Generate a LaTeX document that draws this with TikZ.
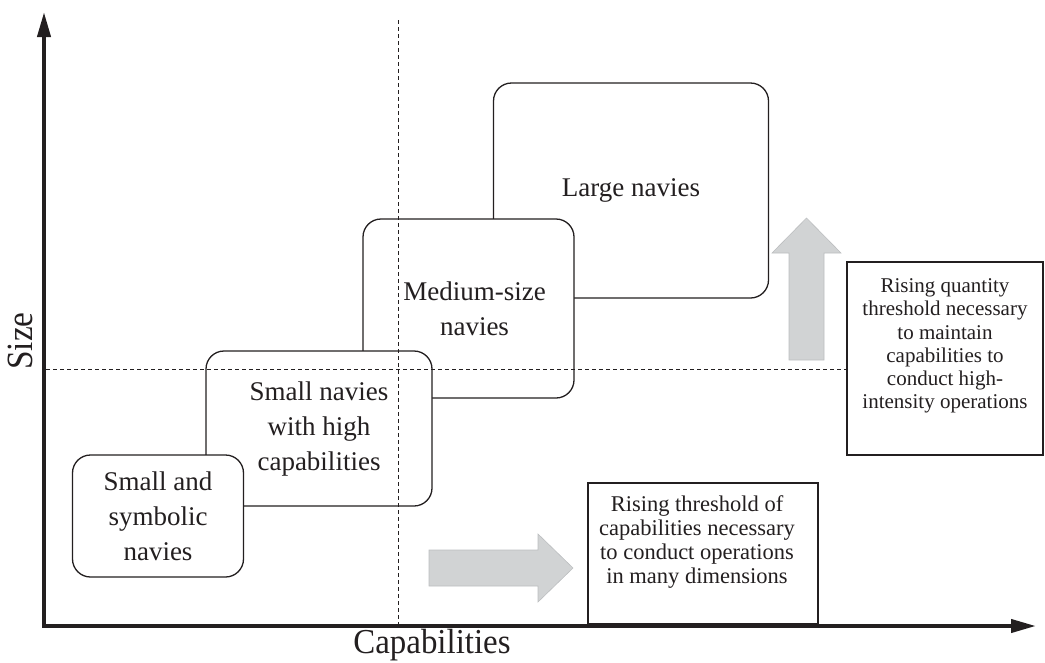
\documentclass[tikz,border=0pt]{standalone}
\usepackage{fontspec}
\setmainfont{Liberation Serif}
\usetikzlibrary{arrows.meta}
\definecolor{ink}{HTML}{231F20}
\definecolor{arrowfill}{HTML}{D1D3D4}
\definecolor{arrowedge}{HTML}{BCBEC0}
\begin{document}
\begin{tikzpicture}[x=1pt, y=-1pt,
  navybox/.style={draw=ink, line width=1.3pt, rounded corners=18pt, fill=white,
    align=center, text=ink, font=\fontsize{27}{35}\selectfont, inner sep=0pt},
  noteframe/.style={draw=ink, line width=1.2pt, fill=white, inner sep=0pt},
  notetext/.style={align=center, text=ink, inner sep=0pt},
  guide/.style={draw=ink, line width=0.9pt, dash pattern=on 4pt off 3pt},
  axisline/.style={draw=ink, line width=4pt, line join=miter},
  bigarrow/.style={fill=arrowfill, draw=arrowedge, line width=0.6pt},
  axislabel/.style={text=ink, inner sep=0pt}
]
\useasboundingbox (0,0) rectangle (1045,662);

% navy boxes (largest first, smaller ones on top)
\node[navybox, minimum width=275pt, minimum height=215pt] (large) at (631,190.5) {Large navies};
\node[navybox, minimum width=211pt, minimum height=179pt] (medium) at (468.5,308.5) {\hspace*{12pt}Medium-size\\\hspace*{12pt}navies};
\node[navybox, minimum width=226pt, minimum height=155pt] (smallhigh) at (319,428.5) {Small navies\\with high\\capabilities};
\node[navybox, minimum width=171pt, minimum height=122pt] (smallsym) at (158,516) {Small and\\symbolic\\navies};

% grey block arrows
\draw[bigarrow] (789,360) -- (789,253) -- (772,253) -- (806.5,218) -- (841,253) -- (824,253) -- (824,360) -- cycle;
\draw[bigarrow] (429,550) -- (538,550) -- (538,534) -- (573,568) -- (538,602) -- (538,586) -- (429,586) -- cycle;

% dashed guides
\coordinate (vtop) at (398,20);
\coordinate (vbot) at (398,624);
\coordinate (hleft) at (46,369);
\coordinate (hright) at (847,369);
\draw[guide] (vtop) -- (vbot);
\draw[guide] (hleft) -- (hright);

% note frames and texts
\node[noteframe, minimum width=196pt, minimum height=193pt] (qframe) at (945,358.5) {};
\node[notetext, font=\fontsize{21}{23.3}\selectfont] (qtext) at (945,346)
  {Rising quantity\\threshold necessary\\to maintain\\capabilities to\\conduct high-\\intensity operations};
\node[noteframe, minimum width=230pt, minimum height=141pt] (cframe) at (703,553.5) {};
\node[notetext, font=\fontsize{22.5}{23.7}\selectfont] (ctext) at (697,542)
  {Rising threshold of\\capabilities necessary\\to conduct operations\\in many dimensions};

% axes
\coordinate (origin) at (44,626);
\coordinate (ytip) at (44,12);
\coordinate (xtip) at (1036,626);
\draw[axisline, {Triangle[length=25pt,width=13pt]}-{Triangle[length=25pt,width=13pt]}] (ytip) -- (origin) -- (xtip);

\node[axislabel, rotate=90, font=\fontsize{37}{43}\selectfont] (ylabel) at (20,341) {\scalebox{0.9}[1]{Size}};
\node[axislabel, anchor=base, font=\fontsize{35}{41}\selectfont] (xlabel) at (432,653) {\scalebox{0.94}[1]{Capabilities}};
\end{tikzpicture}
\end{document}
